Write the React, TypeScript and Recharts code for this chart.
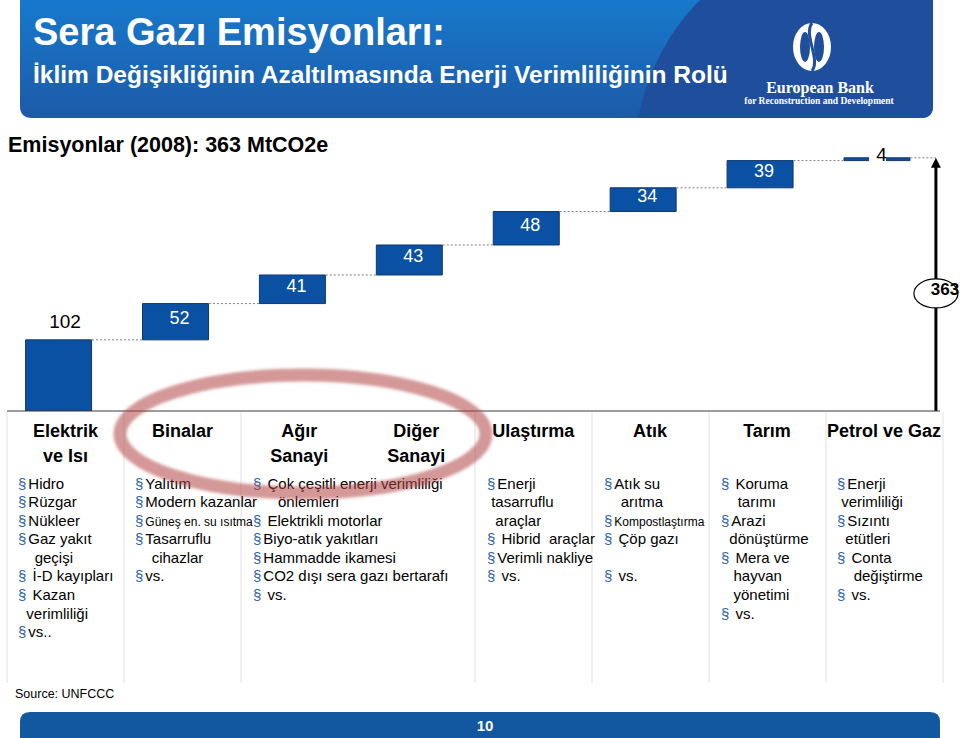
import React from 'react';
import {
    ComposedChart,
    Bar,
    XAxis,
    YAxis,
    ReferenceLine,
    ReferenceDot,
    LabelList
} from 'recharts';

const FONT = 'Arial, "Liberation Sans", Helvetica, sans-serif';

// sectors on the x axis (two-line labels) and their 2008 emissions, MtCO2e
const sectorLabels = [
    ['Elektrik', 've Isı'],
    ['Binalar'],
    ['Ağır', 'Sanayi'],
    ['Diğer', 'Sanayi'],
    ['Ulaştırma'],
    ['Atık'],
    ['Tarım'],
    ['Petrol ve Gaz']
];
const sectorEmissions = [102, 52, 41, 43, 48, 34, 39, 4];
const totalEmissions = 363;

// measures listed under each column (Ağır + Diğer Sanayi share one cell)
const elektrikMeasures = ['§Hidro', '§Rüzgar', '§Nükleer', '§Gaz yakıt', '    geçişi', '§ İ-D kayıpları', '§ Kazan', '  verimliliği', '§vs..'];
const binaMeasures = ['§Yalıtım', '§Modern kazanlar', '§Güneş en. su ısıtma', '§Tasarruflu', '    cihazlar', '§vs.'];
const sanayiMeasures = ['§ Çok çeşitli enerji verimliliği', '      önlemleri', '§ Elektrikli motorlar', '§Biyo-atık yakıtları', '§Hammadde ikamesi', '§CO2 dışı sera gazı bertarafı', '§ vs.'];
const ulastirmaMeasures = ['§Enerji', ' tasarruflu', '  araçlar', '§ Hibrid  araçlar', '§Verimli nakliye', '§ vs.'];
const atikMeasures = ['§Atık su', '    arıtma', '§Kompostlaştırma', '§ Çöp gazı', '', '§ vs.'];
const tarimMeasures = ['§ Koruma', '    tarımı', '§Arazi', '  dönüştürme', '§ Mera ve', '   hayvan', '   yönetimi', '§ vs.'];
const petrolMeasures = ['§Enerji', ' verimliliği', '§Sızıntı', '  etütleri', '§ Conta', '    değiştirme', '§ vs.'];

const measureColumns = [elektrikMeasures, binaMeasures, sanayiMeasures, ulastirmaMeasures, atikMeasures, tarimMeasures, petrolMeasures];
const compactItems = ['Güneş en. su ısıtma', 'Kompostlaştırma'];

// layout of the table under the chart
const columnX = [18, 135, 253, 487, 604, 721, 837];
const gridX = [7, 124, 241, 475, 592, 709, 826, 943];

const BLUE = '#0a51a4';
const HALF_BAR = 0.282; // half of the 66px bar in category units

let running = 0;
const waterfall = sectorEmissions.map((v, i) => {
    const row = { idx: i, base: running, value: v, top: running + v };
    running += v;
    return row;
});

function SectorTick(props: any) {
    const { x, y, payload } = props;
    const lines = sectorLabels[Math.round(payload.value)] || [];
    return (
        <g>
            {lines.map((t, k) => (
                <text
                    key={k}
                    x={x + 6.5}
                    y={y + 26 + k * 24.5}
                    textAnchor="middle"
                    fontSize={18}
                    fontWeight="bold"
                    fontFamily={FONT}
                    fill="#000"
                >
                    {t}
                </text>
            ))}
        </g>
    );
}

function renderValueLabel(props: any) {
    const { x, y, width, height, value, index } = props;
    const cx = x + width / 2;
    if (index === 0) {
        return (
            <text x={cx + 6.5} y={y - 12} textAnchor="middle" fontSize={19} fontFamily={FONT} fill="#000">
                {value}
            </text>
        );
    }
    if (index === sectorEmissions.length - 1) {
        return (
            <g>
                <rect x={cx - 8} y={y - 15} width={17} height={22} fill="#fff" />
                <text x={cx + 4.5} y={y + 3.5} textAnchor="middle" fontSize={19} fontFamily={FONT} fill="#000">
                    {value}
                </text>
            </g>
        );
    }
    return (
        <text x={cx + 4} y={y + height / 2 + 2.4} textAnchor="middle" fontSize={18} fontFamily={FONT} fill="#fff">
            {value}
        </text>
    );
}

function ArrowHead(props: any) {
    const { cx, cy } = props;
    return <polygon points={`${cx},${cy} ${cx - 5},${cy + 10} ${cx + 5},${cy + 10}`} fill="#000" />;
}

function TotalBadge(props: any) {
    const { cx, cy } = props;
    return (
        <g>
            <ellipse cx={cx} cy={cy + 9} rx={22} ry={14.5} fill="#fff" stroke="#000" strokeWidth={1.2} />
            <text x={cx + 9} y={cy + 10.5} textAnchor="middle" fontSize={17} fontWeight="bold" fontFamily={FONT} fill="#000">
                {totalEmissions}
            </text>
        </g>
    );
}

export default function App() {
    const last = waterfall[waterfall.length - 1];

    return (
        <div style={{ position: 'absolute', left: 0, top: 0, width: 960, height: 738, background: '#fff', fontFamily: FONT, overflow: 'hidden' }}>
            {/* slide frame: header, subtitle, grid, footer */}
            <svg width={960} height={738} style={{ position: 'absolute', left: 0, top: 0 }}>
                <defs>
                    <linearGradient id="hdr" x1="0" y1="0" x2="0" y2="1">
                        <stop offset="0" stopColor="#1779cc" />
                        <stop offset="1" stopColor="#1d5aa8" />
                    </linearGradient>
                    <clipPath id="hdrClip">
                        <path d="M20 0 H933 V106 Q933 118 921 118 H32 Q20 118 20 106 Z" />
                    </clipPath>
                </defs>
                <g clipPath="url(#hdrClip)">
                    <rect x={20} y={0} width={913} height={118} fill="url(#hdr)" />
                    <path d="M700 0 C 670 30, 648 70, 638 118 L933 118 L933 0 Z" fill="#1f4f9c" />
                </g>
                <text x={33} y={45} fontSize={38} fontWeight="bold" fill="#fff" fontFamily={FONT}>
                    Sera Gazı Emisyonları:
                </text>
                <text x={33} y={83} fontSize={24.5} fontWeight="bold" fill="#fff" fontFamily={FONT}>
                    İklim Değişikliğinin Azaltılmasında Enerji Verimliliğinin Rolü
                </text>

                {/* EBRD mark */}
                <ellipse cx={812} cy={47} rx={19} ry={24} fill="#fff" />
                <ellipse cx={805} cy={47} rx={5} ry={15} fill="#1f4f9c" />
                <ellipse cx={819} cy={47} rx={5} ry={15} fill="#1f4f9c" />
                <path d="M812 23 C 803 35, 821 59, 812 71" stroke="#1f4f9c" strokeWidth={3} fill="none" />
                <text x={820} y={93} textAnchor="middle" fontSize={16} fontWeight="bold" fill="#fff" fontFamily='"Liberation Serif", "Times New Roman", serif'>
                    European Bank
                </text>
                <text x={819} y={104} textAnchor="middle" fontSize={9.5} fontWeight="bold" fill="#fff" fontFamily='"Liberation Serif", "Times New Roman", serif'>
                    for Reconstruction and Development
                </text>

                <text x={8} y={151.5} fontSize={21.5} fontWeight="bold" fill="#000" fontFamily={FONT}>
                    Emisyonlar (2008): 363 MtCO2e
                </text>

                {gridX.map((gx) => (
                    <line key={gx} x1={gx} x2={gx} y1={412} y2={683} stroke="#e2e2e2" strokeWidth={1} />
                ))}

                <text x={15} y={697.5} fontSize={12.5} fill="#000" fontFamily={FONT}>
                    Source: UNFCCC
                </text>
                <path d="M20 738 V722 Q20 712 30 712 H930 Q940 712 940 722 V738 Z" fill="#1158a0" />
                <text x={485} y={730.5} textAnchor="middle" fontSize={15} fontWeight="bold" fill="#fff" fontFamily={FONT}>
                    10
                </text>
            </svg>

            {/* waterfall chart */}
            <div style={{ position: 'absolute', left: 0, top: 0 }}>
                <ComposedChart
                    width={960}
                    height={500}
                    data={waterfall}
                    margin={{ top: 132, right: 20, bottom: 0, left: 7 }}
                >
                    <XAxis
                        dataKey="idx"
                        type="number"
                        domain={[-0.445, 7.535]}
                        ticks={[0, 1, 2, 3, 4, 5, 6, 7]}
                        interval={0}
                        allowDataOverflow
                        tick={(p: any) => <SectorTick {...p} />}
                        tickLine={false}
                        tickSize={0}
                        tickMargin={0}
                        axisLine={{ stroke: '#3a3a3a' }}
                        height={89}
                    />
                    <YAxis hide type="number" domain={[0, 400]} allowDataOverflow />

                    <Bar dataKey="base" stackId="w" fill="transparent" barSize={66} isAnimationActive={false} />
                    <Bar dataKey="value" stackId="w" fill={BLUE} stroke="#12386b" strokeWidth={1} barSize={66} isAnimationActive={false}>
                        <LabelList dataKey="value" content={renderValueLabel} />
                    </Bar>

                    {/* dotted connectors between steps */}
                    {waterfall.map((d, i) => (
                        <ReferenceLine
                            key={`c${i}`}
                            segment={[
                                { x: i + HALF_BAR, y: d.top },
                                { x: i < waterfall.length - 1 ? i + 1 - HALF_BAR : i + 0.5, y: d.top }
                            ]}
                            stroke="#808080"
                            strokeDasharray="2 2"
                            strokeWidth={1}
                        />
                    ))}

                    {/* total arrow */}
                    <ReferenceLine
                        segment={[
                            { x: last.idx + 0.5, y: 0 },
                            { x: last.idx + 0.5, y: totalEmissions - 8 }
                        ]}
                        stroke="#000"
                        strokeWidth={3}
                    />
                    <ReferenceDot x={last.idx + 0.5} y={totalEmissions} r={1} shape={(p: any) => <ArrowHead {...p} />} />
                    <ReferenceDot x={last.idx + 0.5} y={totalEmissions / 2} r={1} shape={(p: any) => <TotalBadge {...p} />} />
                </ComposedChart>
            </div>

            {/* measure lists */}
            {measureColumns.map((lines, c) => (
                <div
                    key={c}
                    style={{
                        position: 'absolute',
                        left: columnX[c],
                        top: 474.5,
                        fontSize: 15,
                        lineHeight: '18.6px',
                        whiteSpace: 'pre',
                        color: '#000'
                    }}
                >
                    {lines.map((ln, k) => {
                        const bullet = ln.startsWith('§');
                        const body = bullet ? ln.slice(1) : ln;
                        const small = compactItems.includes(body.trim());
                        return (
                            <div key={k} style={{ height: 18.6 }}>
                                {bullet && <span style={{ color: '#2a62ab', marginRight: 2 }}>§</span>}
                                <span style={small ? { fontSize: 12 } : undefined}>{body || '\u00a0'}</span>
                            </div>
                        );
                    })}
                </div>
            ))}

            {/* highlight ring */}
            <svg width={960} height={738} style={{ position: 'absolute', left: 0, top: 0, pointerEvents: 'none' }}>
                <defs>
                    <filter id="soft" x="-10%" y="-30%" width="120%" height="160%">
                        <feGaussianBlur stdDeviation="1.6" />
                    </filter>
                </defs>
                <ellipse
                    cx={303}
                    cy={434}
                    rx={183}
                    ry={59}
                    fill="none"
                    stroke="#b04545"
                    strokeOpacity={0.55}
                    strokeWidth={13}
                    filter="url(#soft)"
                />
            </svg>
        </div>
    );
}
